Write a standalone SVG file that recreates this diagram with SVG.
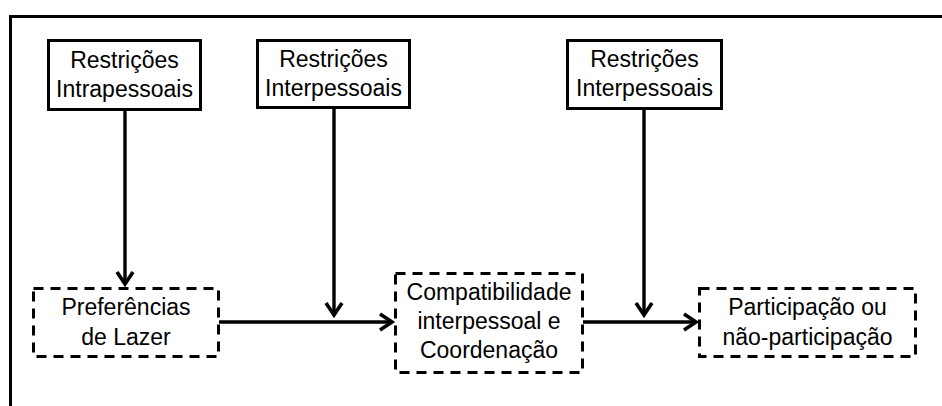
<svg xmlns="http://www.w3.org/2000/svg" width="942" height="406" viewBox="0 0 942 406">
  <defs>
    <style>
      .frame { fill: none; stroke: #000; stroke-width: 3; }
      .solid { fill: #fff; stroke: #000; stroke-width: 3; }
      .dashed { fill: #fff; stroke: #000; stroke-width: 3; stroke-dasharray: 10 7; }
      .label { font-family: "Liberation Sans", Arial, sans-serif; font-size: 23px; fill: #000; text-anchor: middle; }
      .edge { fill: none; stroke: #000; stroke-width: 3.4; }
      .head { fill: none; stroke: #000; stroke-width: 3.6; stroke-linecap: butt; stroke-linejoin: miter; }
    </style>
  </defs>
  <rect width="942" height="406" fill="#fff"/>
  <!-- outer frame, open on the right and bottom edges -->
  <path class="frame" d="M10.5,410 V16.5 H950"/>

  <g id="connectors">
    <path class="edge" d="M125,110 V284"/>
    <path class="head" d="M117,272 L125,284 L133,272"/>
    <path class="edge" d="M334,108 V315"/>
    <path class="head" d="M326,303 L334,315 L342,303"/>
    <path class="edge" d="M644,109 V315"/>
    <path class="head" d="M636,303 L644,315 L652,303"/>
    <path class="edge" d="M219,322 H392"/>
    <path class="head" d="M380,314 L392,322 L380,330"/>
    <path class="edge" d="M583,322 H696"/>
    <path class="head" d="M684,314 L696,322 L684,330"/>
  </g>

  <g id="intrapessoais">
    <rect class="solid" x="48.5" y="40.5" width="152" height="69"/>
    <text class="label" x="124.5" y="68">Restrições</text>
    <text class="label" x="124.5" y="97">Intrapessoais</text>
  </g>
  <g id="interpessoais-1">
    <rect class="solid" x="257.5" y="40.5" width="152" height="67"/>
    <text class="label" x="333.5" y="67">Restrições</text>
    <text class="label" x="333.5" y="96">Interpessoais</text>
  </g>
  <g id="interpessoais-2">
    <rect class="solid" x="567.5" y="40.5" width="154" height="68"/>
    <text class="label" x="644.5" y="67">Restrições</text>
    <text class="label" x="644.5" y="96">Interpessoais</text>
  </g>

  <g id="preferencias">
    <rect class="dashed" x="33.5" y="288.5" width="185" height="68"/>
    <text class="label" x="126" y="315">Preferências</text>
    <text class="label" x="126" y="345">de Lazer</text>
  </g>
  <g id="compatibilidade">
    <rect class="dashed" x="395.5" y="273.5" width="187" height="99"/>
    <text class="label" x="489" y="300">Compatibilidade</text>
    <text class="label" x="489" y="329">interpessoal e</text>
    <text class="label" x="489" y="358">Coordenação</text>
  </g>
  <g id="participacao">
    <rect class="dashed" x="699.5" y="288.5" width="216" height="68"/>
    <text class="label" x="807.5" y="315">Participação ou</text>
    <text class="label" x="807.5" y="345">não-participação</text>
  </g>
</svg>
